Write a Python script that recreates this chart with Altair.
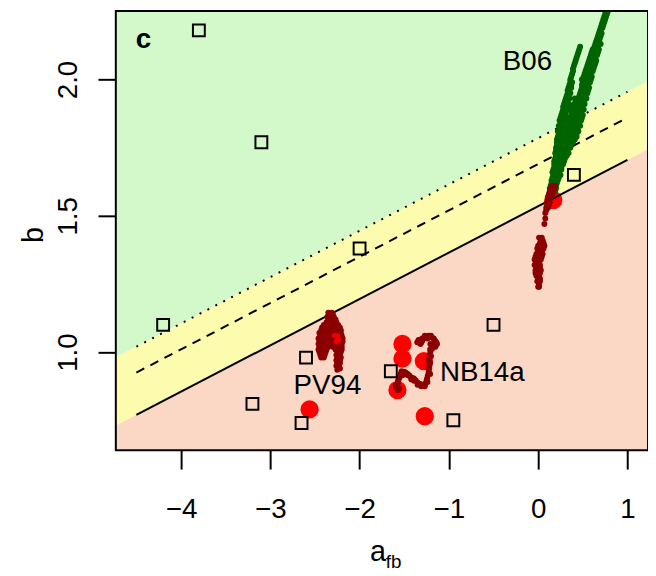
import altair as alt
import pandas as pd

FONT = "Liberation Sans"

# axis ranges
x_domain = [-4.73, 1.23]
y_domain = [0.64, 2.251]

# boundary lines (drawn part)
line_x = [-4.5, 1.0]
solid_y = [0.77, 1.705]
dashed_y = [0.925, 1.86]
dotted_y = [1.02, 1.955]

# region boundaries at the plot edges
edge_x = [-4.73, 1.23]
edge_solid = [0.731, 1.744]
edge_dotted = [0.981, 1.994]

# open squares
sq_x = [-3.8, -3.1, -2.0, 0.4, -4.2, -2.6, -3.2, -2.65, -0.5, -1.65, -0.95]
sq_y = [2.18, 1.77, 1.38, 1.65, 1.10, 0.98, 0.81, 0.74, 1.10, 0.93, 0.75]

# big red circles
red_x = [0.17, -2.56, -1.52, -1.52, -1.28, -1.576, -1.27]
red_y = [1.558, 0.79, 1.03, 0.976, 0.967, 0.861, 0.765]

# B06 cloud (dark green): rows y -> x values
green_rows = {
    1.59: [0.15, 0.19],
    1.60: [0.13, 0.17, 0.20],
    1.61: [0.14, 0.17, 0.20],
    1.62: [0.15, 0.18, 0.21],
    1.63: [0.15, 0.19, 0.22],
    1.64: [0.16, 0.20, 0.23],
    1.65: [0.17, 0.21, 0.25],
    1.66: [0.16, 0.19, 0.23],
    1.67: [0.17, 0.21, 0.26],
    1.68: [0.18, 0.22, 0.26],
    1.69: [0.18, 0.23, 0.28],
    1.70: [0.18, 0.21, 0.26, 0.29],
    1.71: [0.19, 0.24, 0.30],
    1.72: [0.20, 0.23, 0.28, 0.32],
    1.73: [0.19, 0.25, 0.30, 0.34],
    1.74: [0.20, 0.23, 0.28, 0.33],
    1.75: [0.20, 0.26, 0.32, 0.36],
    1.76: [0.21, 0.24, 0.30, 0.35, 0.37],
    1.77: [0.21, 0.27, 0.33, 0.39],
    1.78: [0.21, 0.25, 0.31, 0.37, 0.41],
    1.79: [0.22, 0.28, 0.34, 0.40, 0.43],
    1.80: [0.23, 0.26, 0.31, 0.38, 0.43],
    1.81: [0.22, 0.28, 0.35, 0.41, 0.45],
    1.82: [0.24, 0.26, 0.33, 0.39, 0.44],
    1.83: [0.23, 0.29, 0.36, 0.42, 0.47],
    1.84: [0.25, 0.27, 0.34, 0.40, 0.46],
    1.85: [0.24, 0.30, 0.37, 0.43, 0.48],
    1.86: [0.25, 0.28, 0.35, 0.41, 0.46, 0.49],
    1.87: [0.26, 0.31, 0.38, 0.45, 0.50],
    1.88: [0.27, 0.30, 0.37, 0.43, 0.48],
    1.89: [0.28, 0.33, 0.40, 0.45, 0.51],
    1.90: [0.28, 0.31, 0.38, 0.42, 0.47, 0.50],
    1.91: [0.29, 0.34, 0.40, 0.44, 0.48, 0.52],
    1.92: [0.30, 0.33, 0.43, 0.47, 0.51],
    1.93: [0.31, 0.35, 0.41, 0.45, 0.49, 0.54],
    1.94: [0.32, 0.34, 0.46, 0.50, 0.53],
    1.95: [0.33, 0.36, 0.47, 0.51, 0.55],
    1.96: [0.33, 0.35, 0.48, 0.52, 0.56],
    1.97: [0.34, 0.37, 0.49, 0.53, 0.57],
    1.98: [0.35, 0.37, 0.49, 0.52, 0.56],
    1.99: [0.36, 0.38, 0.50, 0.54, 0.58],
    2.00: [0.36, 0.49, 0.53, 0.57, 0.59],
    2.01: [0.37, 0.51, 0.56, 0.60],
    2.02: [0.38, 0.52, 0.55, 0.59],
    2.03: [0.39, 0.53, 0.57, 0.61],
    2.04: [0.39, 0.54, 0.58, 0.62],
    2.05: [0.40, 0.55, 0.59, 0.63],
    2.06: [0.41, 0.56, 0.60, 0.64],
    2.07: [0.42, 0.57, 0.61, 0.65],
    2.08: [0.43, 0.58, 0.62, 0.64],
    2.09: [0.44, 0.59, 0.63, 0.66],
    2.10: [0.45, 0.60, 0.64, 0.67],
    2.11: [0.46, 0.61, 0.65, 0.68],
    2.12: [0.47, 0.63, 0.66],
    2.13: [0.64, 0.67, 0.70],
    2.14: [0.65, 0.68],
    2.15: [0.66, 0.69],
    2.16: [0.67, 0.70],
    2.17: [0.68, 0.71],
    2.18: [0.69, 0.70],
    2.19: [0.70, 0.72],
    2.20: [0.71, 0.73],
    2.21: [0.72, 0.74],
    2.22: [0.73, 0.75],
    2.23: [0.74, 0.76],
    2.24: [0.75, 0.77],
    2.25: [0.76, 0.78],
    2.26: [0.77],
    2.27: [0.78],
}

# dark red clouds: rows y -> x values
darkred_rows = {
    # below B06
    1.61: [0.16, 0.19],
    1.60: [0.14, 0.18],
    1.59: [0.13, 0.17],
    1.58: [0.12, 0.16],
    1.57: [0.11, 0.14],
    1.56: [0.11, 0.13],
    1.55: [0.10, 0.13],
    1.54: [0.10, 0.12],
    1.53: [0.09, 0.11],
    1.52: [0.09],
    1.51: [0.08],
    1.49: [0.08],
    1.47: [0.07],
    1.42: [0.01, 0.04],
    1.41: [0.03, 0.05],
    1.40: [0.02, 0.06],
    1.39: [0.00, 0.04, 0.07],
    1.38: [-0.01, 0.03, 0.06],
    1.37: [0.00, 0.04],
    1.36: [-0.02, 0.02, 0.05],
    1.35: [-0.03, 0.01, 0.04],
    1.34: [-0.04, 0.00, 0.03],
    1.33: [-0.02, 0.01],
    1.32: [-0.04, -0.01, 0.02],
    1.31: [-0.02, 0.02],
    1.30: [-0.03, 0.01, 0.03],
    1.29: [-0.03, 0.00, 0.02],
    1.28: [-0.02, 0.01],
    1.27: [0.00, 0.02],
    1.26: [-0.01, 0.02],
    1.25: [0.01],
    1.24: [0.00, 0.01],
    # PV94 cloud
    1.145: [-2.35, -2.31],
    1.14: [-2.33, -2.30],
    1.13: [-2.36, -2.32, -2.29],
    1.12: [-2.35, -2.31, -2.27],
    1.11: [-2.37, -2.33, -2.29, -2.26],
    1.10: [-2.40, -2.35, -2.31, -2.27, -2.24],
    1.09: [-2.42, -2.38, -2.33, -2.28, -2.22],
    1.08: [-2.43, -2.39, -2.35, -2.30, -2.24, -2.21],
    1.07: [-2.45, -2.41, -2.36, -2.31, -2.26, -2.21],
    1.06: [-2.44, -2.40, -2.34, -2.29, -2.24, -2.20],
    1.05: [-2.46, -2.42, -2.37, -2.32, -2.27, -2.21, -2.19],
    1.04: [-2.45, -2.40, -2.35, -2.30, -2.24, -2.19],
    1.03: [-2.46, -2.42, -2.37, -2.32, -2.26, -2.20],
    1.02: [-2.45, -2.40, -2.35, -2.30, -2.23, -2.20],
    1.01: [-2.46, -2.42, -2.37, -2.27, -2.22, -2.20],
    1.00: [-2.45, -2.41, -2.38, -2.25, -2.21],
    0.99: [-2.44, -2.39, -2.26, -2.22],
    0.98: [-2.43, -2.40, -2.25, -2.21],
    0.97: [-2.26, -2.22],
    0.96: [-2.25, -2.22],
    0.95: [-2.26, -2.23],
    0.94: [-2.24, -2.22],
    0.935: [-2.25],
}

# NB14a loop (dark red)
nb_x = [-1.299, -1.262, -1.226, -1.188, -1.152, -1.133, -1.17, -1.207, -1.318, -1.354,
        -1.188, -1.207, -1.226, -1.218, -1.226, -1.244, -1.262, -1.299, -1.337, -1.373,
        -1.392, -1.429, -1.465, -1.503, -1.539, -1.558, -1.576, -1.558, -1.595, -1.52,
        -1.215, -1.22, -1.22, -1.235, -1.25, -1.28, -1.32, -1.355, -1.41, -1.445,
        -1.485, -1.57, -1.58, -1.165, -1.28, -1.245,
        -1.30, -1.27, -1.24, -1.20, -1.17, -1.14, -1.15, -1.19, -1.21, -1.20,
        -1.21, -1.23, -1.21, -1.24, -1.27, -1.31, -1.35, -1.39, -1.42, -1.46,
        -1.50, -1.53, -1.55, -1.565, -1.59, -1.57, -1.34, -1.31]
nb_y = [1.041, 1.053, 1.06, 1.053, 1.041, 1.03, 1.024, 1.03, 1.03, 1.036,
        1.012, 1.0, 0.976, 0.951, 0.928, 0.903, 0.885, 0.879, 0.885, 0.897,
        0.903, 0.909, 0.921, 0.928, 0.921, 0.903, 0.885, 0.867, 0.879, 0.915,
        0.99, 0.965, 0.94, 0.915, 0.895, 0.88, 0.883, 0.89, 0.905, 0.915,
        0.925, 0.895, 0.87, 1.045, 1.05, 1.058,
        1.05, 1.06, 1.05, 1.06, 1.05, 1.035, 1.02, 1.02, 1.01, 0.985,
        0.96, 0.94, 0.92, 0.89, 0.875, 0.875, 0.88, 0.895, 0.90, 0.915,
        0.92, 0.93, 0.91, 0.89, 0.87, 0.86, 1.045, 1.035]

# bright red small points inside the PV94 cloud
redsmall_x = [-2.28, -2.25, -2.26, -2.23]
redsmall_y = [1.06, 1.06, 1.04, 1.045]

labels_c = ["B06", "PV94"]
label_c_x = [-0.12, -2.36]
label_c_y = [2.063, 0.876]
labels_l = ["NB14a"]
label_l_x = [-1.10]
label_l_y = [0.923]

W, H = 538, 444


def rows_to_df(rows):
    xs, ys = [], []
    for yv, xl in rows.items():
        for xv in xl:
            xs.append(xv)
            ys.append(yv)
    return pd.DataFrame({"x": xs, "y": ys})


xs = alt.Scale(domain=x_domain, nice=False, zero=False)
ys = alt.Scale(domain=y_domain, nice=False, zero=False)

X = alt.X("x:Q", scale=xs, axis=alt.Axis(
    values=[-4, -3, -2, -1, 0, 1], format="d", title=None,
    labelFont=FONT, labelFontSize=28, labelColor="black", labelPadding=27,
    labelBaseline="top", labelFlush=False, labelOverlap=False,
    tickSize=19, tickWidth=2, tickColor="black", domain=False, grid=False))
Y = alt.Y("y:Q", scale=ys, axis=alt.Axis(
    values=[1.0, 1.5, 2.0], format=".1f", title="b",
    labelFont=FONT, labelFontSize=28, labelColor="black", labelAngle=270,
    labelAlign="center", labelBaseline="alphabetic", labelPadding=22,
    labelFlush=False, labelOverlap=False,
    tickSize=18, tickWidth=2, tickColor="black", domain=False, grid=False,
    titleFont=FONT, titleFontSize=29, titleFontWeight="normal", titleColor="black",
    titleAngle=270, titleAlign="center", titleBaseline="alphabetic",
    titleX=-74, titleY=226))

top_edge = [y_domain[1], y_domain[1]]
bottom_edge = [y_domain[0], y_domain[0]]

green_df = pd.DataFrame({"x": edge_x, "y": edge_dotted, "y2": top_edge})
yellow_df = pd.DataFrame({"x": edge_x, "y": edge_solid, "y2": edge_dotted})
pink_df = pd.DataFrame({"x": edge_x, "y": bottom_edge, "y2": edge_solid})


def region(df, color):
    return alt.Chart(df).mark_area(color=color, opacity=1, clip=True).encode(
        x=X, y=Y, y2="y2:Q")


bg = region(green_df, "#d3f8c9") + region(yellow_df, "#fcfbae") + region(pink_df, "#fbd8c6")


def bline(yvals, dash):
    df = pd.DataFrame({"x": line_x, "y": yvals})
    kw = dict(color="black", strokeWidth=2, clip=True)
    if dash:
        kw["strokeDash"] = dash
    return alt.Chart(df).mark_line(**kw).encode(x=X, y=Y)


lines = bline(solid_y, None) + bline(dashed_y, [9, 7]) + bline(dotted_y, [2, 7])

red_big = alt.Chart(pd.DataFrame({"x": red_x, "y": red_y})).mark_circle(
    color="#ff0000", opacity=1, size=340).encode(x=X, y=Y)

green_pts = alt.Chart(rows_to_df(green_rows)).mark_circle(
    color="#006400", opacity=1, size=36, clip=True).encode(x=X, y=Y)

dr_df = pd.concat([rows_to_df(darkred_rows), pd.DataFrame({"x": nb_x, "y": nb_y})])
darkred_pts = alt.Chart(dr_df).mark_circle(
    color="#8b0000", opacity=1, size=36).encode(x=X, y=Y)

redsmall = alt.Chart(pd.DataFrame({"x": redsmall_x, "y": redsmall_y})).mark_circle(
    color="#ee0000", opacity=1, size=30).encode(x=X, y=Y)

squares = alt.Chart(pd.DataFrame({"x": sq_x, "y": sq_y})).mark_point(
    shape="square", filled=False, color="black", strokeWidth=2, size=144, opacity=1
).encode(x=X, y=Y)

texts_c = alt.Chart(pd.DataFrame({"x": label_c_x, "y": label_c_y, "t": labels_c})).mark_text(
    font=FONT, fontSize=28, color="black", baseline="middle", align="center"
).encode(x=X, y=Y, text="t:N")
texts_l = alt.Chart(pd.DataFrame({"x": label_l_x, "y": label_l_y, "t": labels_l})).mark_text(
    font=FONT, fontSize=28, color="black", baseline="middle", align="left"
).encode(x=X, y=Y, text="t:N")

panel = alt.Chart(pd.DataFrame({"x": [-4.42], "y": [2.146], "t": ["c"]})).mark_text(
    font=FONT, fontSize=28, fontWeight="bold", color="black", baseline="middle", align="center"
).encode(x=X, y=Y, text="t:N")

xtitle_a = alt.Chart(pd.DataFrame({"t": ["a"]})).mark_text(
    font=FONT, fontSize=29, color="black", align="center", baseline="alphabetic"
).encode(x=alt.value(265), y=alt.value(556), text="t:N")
xtitle_sub = alt.Chart(pd.DataFrame({"t": ["fb"]})).mark_text(
    font=FONT, fontSize=19, color="black", align="left", baseline="alphabetic"
).encode(x=alt.value(273), y=alt.value(563), text="t:N")

frame = alt.Chart(pd.DataFrame({"t": [0]})).mark_rect(
    filled=False, stroke="black", strokeWidth=2
).encode(x=alt.value(0), x2=alt.value(W), y=alt.value(0), y2=alt.value(H))

chart = alt.layer(
    bg, red_big, lines, green_pts, darkred_pts, redsmall, squares,
    texts_c, texts_l, panel, xtitle_a, xtitle_sub, frame
).properties(
    width=W, height=H,
    autosize=alt.AutoSizeParams(type="none"),
    padding={"left": 109, "top": 0, "right": 0, "bottom": 124},
).configure_view(stroke=None)

chart.save("out.html", embed_options={"renderer": "svg", "actions": False})
